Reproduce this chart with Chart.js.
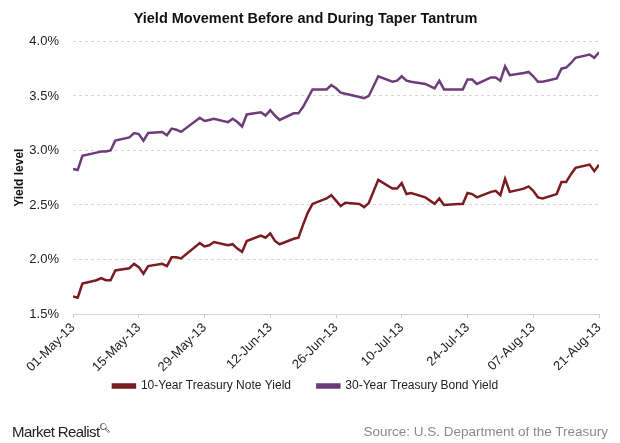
<!DOCTYPE html>
<html>
<head>
<meta charset="utf-8">
<script src="https://cdn.jsdelivr.net/npm/chart.js@4/dist/chart.umd.min.js"></script>
<style>
  body { margin: 0; background: #fff; }
  #wrap { position: relative; width: 620px; height: 443px; font-family: "Liberation Sans", Arial, sans-serif; }
  #logo { position: absolute; left: 12px; top: 423px; font-size: 15px; color: #222; letter-spacing: -0.6px; }
  #source { position: absolute; right: 12px; top: 424px; font-size: 13.5px; color: #8a8a8a; }
</style>
</head>
<body>
<div id="wrap">
  <canvas id="canvas" width="620" height="443"></canvas>
  <div id="logo">Market Realist<sup style="font-size:9px">&#x1F50D;&#xFE0E;</sup></div>
  <div id="source">Source: U.S. Department of the Treasury</div>
</div>
<script>
// trading days shown in the chart
var dates = [
  '2013-05-01','2013-05-02','2013-05-03','2013-05-06','2013-05-07','2013-05-08','2013-05-09','2013-05-10',
  '2013-05-13','2013-05-14','2013-05-15','2013-05-16','2013-05-17','2013-05-20','2013-05-21','2013-05-22',
  '2013-05-23','2013-05-24','2013-05-28','2013-05-29','2013-05-30','2013-05-31','2013-06-03','2013-06-04',
  '2013-06-05','2013-06-06','2013-06-07','2013-06-10','2013-06-11','2013-06-12','2013-06-13','2013-06-14',
  '2013-06-17','2013-06-18','2013-06-19','2013-06-20','2013-06-21','2013-06-24','2013-06-25','2013-06-26',
  '2013-06-27','2013-06-28','2013-07-01','2013-07-02','2013-07-03','2013-07-05','2013-07-08','2013-07-09',
  '2013-07-10','2013-07-11','2013-07-12','2013-07-15','2013-07-16','2013-07-17','2013-07-18','2013-07-19',
  '2013-07-22','2013-07-23','2013-07-24','2013-07-25','2013-07-26','2013-07-29','2013-07-30','2013-07-31',
  '2013-08-01','2013-08-02','2013-08-05','2013-08-06','2013-08-07','2013-08-08','2013-08-09','2013-08-12',
  '2013-08-13','2013-08-14','2013-08-15','2013-08-16','2013-08-19','2013-08-20','2013-08-21'
];

var tenYear = [
  1.66, 1.65, 1.78, 1.81, 1.83, 1.81, 1.81, 1.90,
  1.92, 1.96, 1.93, 1.87, 1.94, 1.96, 1.94, 2.02,
  2.02, 2.01, 2.15, 2.12, 2.13, 2.16, 2.13, 2.14,
  2.10, 2.07, 2.17, 2.22, 2.20, 2.24, 2.17, 2.14,
  2.19, 2.20, 2.32, 2.43, 2.51, 2.56, 2.59, 2.54,
  2.49, 2.52, 2.51, 2.48, 2.52, 2.73, 2.65, 2.65,
  2.70, 2.60, 2.61, 2.57, 2.54, 2.51, 2.56, 2.50,
  2.51, 2.51, 2.61, 2.60, 2.57, 2.62, 2.63, 2.59,
  2.74, 2.62, 2.65, 2.67, 2.63, 2.57, 2.56, 2.60,
  2.71, 2.71, 2.78, 2.84, 2.87, 2.81, 2.87
];

var thirtyYear = [
  2.83, 2.82, 2.95, 2.98, 2.99, 2.99, 3.00, 3.09,
  3.12, 3.16, 3.15, 3.09, 3.16, 3.17, 3.14, 3.20,
  3.19, 3.17, 3.30, 3.27, 3.28, 3.29, 3.26, 3.29,
  3.26, 3.22, 3.33, 3.35, 3.32, 3.37, 3.32, 3.28,
  3.34, 3.34, 3.40, 3.48, 3.56, 3.56, 3.60, 3.57,
  3.53, 3.52, 3.49, 3.48, 3.50, 3.68, 3.63, 3.64,
  3.68, 3.64, 3.63, 3.61, 3.59, 3.57, 3.64, 3.56,
  3.56, 3.56, 3.65, 3.65, 3.61, 3.67, 3.67, 3.64,
  3.77, 3.69, 3.71, 3.72, 3.68, 3.63, 3.63, 3.66,
  3.75, 3.76, 3.80, 3.85, 3.88, 3.85, 3.90
];

var yTicks = [1.5, 2.0, 2.5, 3.0, 3.5, 4.0];
var months = ['Jan','Feb','Mar','Apr','May','Jun','Jul','Aug','Sep','Oct','Nov','Dec'];

var start = Date.UTC(2013, 4, 1);
var DAY = 86400000;

function dayIndex(s) {
  var p = s.split('-');
  return Math.round((Date.UTC(+p[0], +p[1] - 1, +p[2]) - start) / DAY);
}

function dayLabel(n) {
  var d = new Date(start + n * DAY);
  var dd = String(d.getUTCDate()).padStart(2, '0');
  return dd + '-' + months[d.getUTCMonth()] + '-' + String(d.getUTCFullYear()).slice(2);
}

function toPoints(vals) {
  return vals.map(function (v, i) { return { x: dayIndex(dates[i]), y: v }; });
}

Chart.defaults.font.family = '"Liberation Sans", Arial, sans-serif';
Chart.defaults.color = '#333';

var config = {
    type: 'line',
    data: {
        datasets: [{
            label: '10-Year Treasury Note Yield',
            data: toPoints(tenYear),
            borderColor: '#7a1c22',
            backgroundColor: '#7a1c22',
            borderWidth: 2.5,
            pointRadius: 0,
            tension: 0
        }, {
            label: '30-Year Treasury Bond Yield',
            data: toPoints(thirtyYear),
            borderColor: '#6c3d78',
            backgroundColor: '#6c3d78',
            borderWidth: 2.5,
            pointRadius: 0,
            tension: 0
        }]
    },
    options: {
        responsive: false,
        animation: false,
        layout: { padding: { left: 12, right: 21, top: 4, bottom: 41 } },
        plugins: {
            title: {
                display: true,
                text: 'Yield Movement Before and During Taper Tantrum',
                color: '#111',
                font: { size: 14.5, weight: 'bold' },
                padding: { top: 6, bottom: 14 }
            },
            legend: {
                position: 'bottom',
                labels: {
                    boxWidth: 22,
                    boxHeight: 3,
                    padding: 3,
                    color: '#222',
                    font: { size: 12 },
                    // extra gap between the two entries
                    generateLabels: function (chart) {
                        var items = Chart.defaults.plugins.legend.labels.generateLabels(chart);
                        items.forEach(function (it, i) {
                            if (i < items.length - 1) it.text = it.text + '       ';
                        });
                        return items;
                    }
                }
            },
            tooltip: { enabled: false }
        },
        scales: {
            x: {
                type: 'linear',
                min: 0,
                max: dayIndex(dates[dates.length - 1]),
                afterBuildTicks: function (s) {
                    var t = [];
                    for (var n = 0; n <= s.max; n += 14) t.push({ value: n });
                    s.ticks = t;
                },
                ticks: {
                    minRotation: 45,
                    maxRotation: 45,
                    color: '#222',
                    font: { size: 13 },
                    padding: 2,
                    callback: function (v) { return dayLabel(v); }
                },
                grid: { drawOnChartArea: false, drawTicks: true, tickLength: 4, color: '#cfcfcf' },
                border: { display: true, color: '#d4d4d4' }
            },
            y: {
                min: 1.5,
                max: 4.0,
                afterBuildTicks: function (s) {
                    s.ticks = yTicks.map(function (v) { return { value: v }; });
                },
                afterFit: function (s) { s.width = 61; },
                title: {
                    display: true,
                    text: 'Yield level',
                    color: '#111',
                    font: { size: 12, weight: 'bold' },
                    padding: 0
                },
                ticks: {
                    color: '#222',
                    font: { size: 13 },
                    padding: 14,
                    callback: function (v) { return v.toFixed(1) + '%'; }
                },
                grid: { color: '#d6d6d6', drawTicks: false },
                border: { display: false, dash: [3, 3] }
            }
        }
    }
};

window.onload = function () {
    window.myLine = new Chart(document.getElementById('canvas'), config);
};
</script>
</body>
</html>
